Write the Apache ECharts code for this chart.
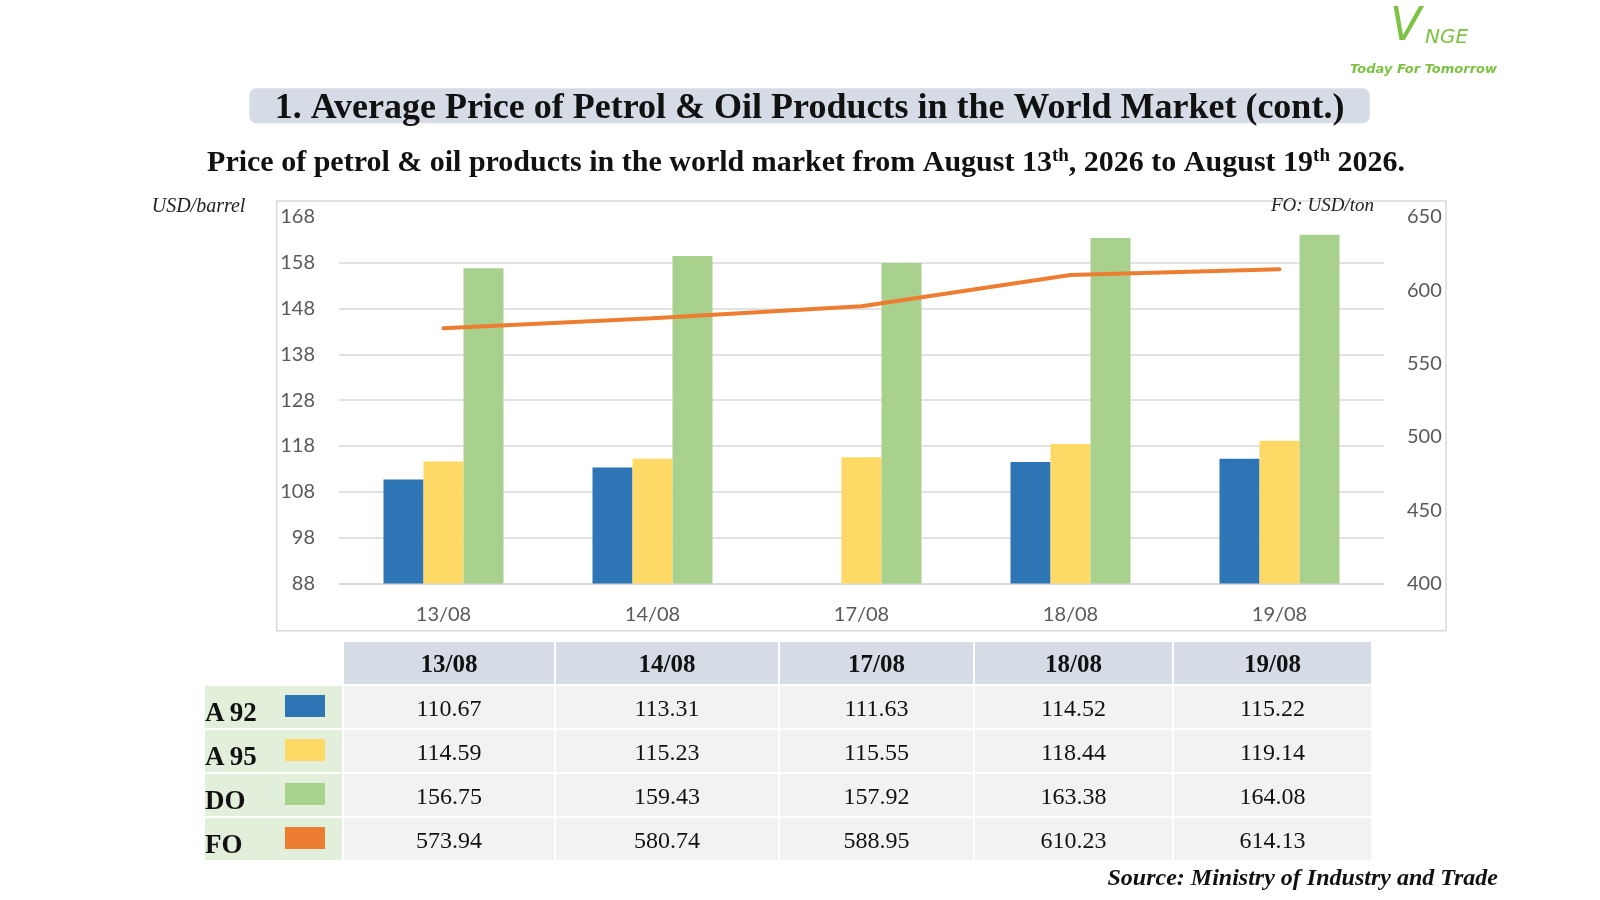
<!DOCTYPE html>
<html>
<head>
<meta charset="utf-8">
<title>Average Price of Petrol &amp; Oil Products</title>
<script src="https://cdn.jsdelivr.net/npm/echarts@6/dist/echarts.min.js"></script>
<style>
    body { margin: 0; background: #fff; }
    #chart { position: absolute; left: 0; top: 0; width: 1600px; height: 900px; }
    #priceTable {
        position: absolute; left: 203px; top: 640px;
        border-collapse: separate; border-spacing: 2px; table-layout: fixed;
        font-family: "Liberation Serif", "Times New Roman", serif; color: #111;
    }
    #priceTable th, #priceTable td {
        box-sizing: border-box; height: 42px; padding: 2px 0 0 0;
        text-align: center; line-height: 40px; overflow: hidden;
    }
    #priceTable th { background: #d6dce5; font-size: 25px; font-weight: bold; }
    #priceTable th.blank { background: none; }
    #priceTable td { background: #f2f2f2; font-size: 24px; }
    #priceTable td.name { background: #e2efda; position: relative; text-align: left; }
    .name .label { position: absolute; left: 0; top: 13px; font-size: 27px; font-weight: bold; line-height: 27px; }
    .name .swatch { position: absolute; left: 80px; top: 9px; width: 40px; height: 22px; }
</style>
</head>
<body>
<div id="chart"></div>
<table id="priceTable"></table>
<script>
// dates on the x axis / table header
var dates = ['13/08', '14/08', '17/08', '18/08', '19/08']

// table values
var a92 = [110.67, 113.31, 111.63, 114.52, 115.22]
var a95 = [114.59, 115.23, 115.55, 118.44, 119.14]
var dieselOil = [156.75, 159.43, 157.92, 163.38, 164.08]
var fuelOil = [573.94, 580.74, 588.95, 610.23, 614.13]

// A92 bar for 17/08 is not drawn in the chart
var a92Bars = [110.67, 113.31, null, 114.52, 115.22]

var leftTicks = { min: 88, max: 168, interval: 10 }
var rightTicks = { min: 400, max: 650, interval: 50 }

var productNames = ['A 92', 'A 95', 'DO', 'FO']
var productColors = ['#2e75b6', '#ffd966', '#a9d18e', '#ed7d31']

var axisFont = 'Lato, "Open Sans", sans-serif'
var serifFont = '"Liberation Serif", "Times New Roman", serif'

// table
var colWidths = [137, 210, 222, 193, 197, 197]
var rows = [a92, a95, dieselOil, fuelOil]
var html = '<colgroup>' + colWidths.map(function(w) {
    return '<col style="width:' + w + 'px">'
}).join('') + '</colgroup>'
html += '<tr><th class="blank"></th>' + dates.map(function(d) {
    return '<th>' + d + '</th>'
}).join('') + '</tr>'
rows.forEach(function(values, i) {
    html += '<tr><td class="name"><span class="label">' + productNames[i] + '</span>' +
        '<span class="swatch" style="background:' + productColors[i] + '"></span></td>' +
        values.map(function(v) { return '<td>' + v.toFixed(2) + '</td>' }).join('') + '</tr>'
})
document.getElementById('priceTable').innerHTML = html

var chart = echarts.init(document.getElementById('chart'), null, { renderer: 'canvas' })

var axisLabelStyle = { color: '#595959', fontSize: 20, fontFamily: axisFont }

var option = {
    animation: false,
    backgroundColor: '#fff',
    grid: { left: 339, right: 216, top: 216.7, bottom: 316.5 },
    xAxis: {
        type: 'category',
        data: dates,
        axisTick: { show: false },
        axisLine: { lineStyle: { color: '#d9d9d9', width: 1.5 } },
        axisLabel: Object.assign({ margin: 21 }, axisLabelStyle)
    },
    yAxis: [{
        type: 'value',
        min: leftTicks.min,
        max: leftTicks.max,
        interval: leftTicks.interval,
        axisLine: { show: false },
        axisTick: { show: false },
        axisLabel: Object.assign({ margin: 24 }, axisLabelStyle),
        splitLine: { showMaxLine: false, lineStyle: { color: '#d9d9d9', width: 1.5 } }
    }, {
        type: 'value',
        min: rightTicks.min,
        max: rightTicks.max,
        interval: rightTicks.interval,
        axisLine: { show: false },
        axisTick: { show: false },
        axisLabel: Object.assign({ margin: 23 }, axisLabelStyle),
        splitLine: { show: false }
    }],
    series: [{
        name: 'A 92', type: 'bar', data: a92Bars,
        barWidth: 40, barGap: '0%',
        itemStyle: { color: productColors[0] }
    }, {
        name: 'A 95', type: 'bar', data: a95,
        barWidth: 40, barGap: '0%',
        itemStyle: { color: productColors[1] }
    }, {
        name: 'DO', type: 'bar', data: dieselOil,
        barWidth: 40, barGap: '0%',
        itemStyle: { color: productColors[2] }
    }, {
        name: 'FO', type: 'line', yAxisIndex: 1, data: fuelOil,
        symbol: 'none', z: 5,
        lineStyle: { color: productColors[3], width: 4, cap: 'round' }
    }],
    graphic: [
        // chart frame
        { type: 'rect', z: -1, silent: true,
          shape: { x: 276.7, y: 201, width: 1169.3, height: 429.7 },
          style: { fill: 'none', stroke: '#d9d9d9', lineWidth: 1.5 } },
        // title box
        { type: 'rect', silent: true,
          shape: { x: 249.3, y: 88.3, width: 1120.5, height: 35, r: 7 },
          style: { fill: '#d6dce5' } },
        { type: 'text', x: 809.5, y: 108.5, silent: true,
          style: { text: '1. Average Price of Petrol & Oil Products in the World Market (cont.)',
                   font: 'bold 36px ' + serifFont, fill: '#111', align: 'center', verticalAlign: 'middle' } },
        { type: 'text', x: 806, y: 163, silent: true,
          style: {
              text: '{t|Price of petrol & oil products in the world market from August 13}{s|th}{t|, 2026 to August 19}{s|th}{t| 2026.}',
              align: 'center', verticalAlign: 'middle',
              rich: {
                  t: { fontFamily: serifFont, fontWeight: 'bold', fontSize: 30, lineHeight: 32, fill: '#111', color: '#111' },
                  s: { fontFamily: serifFont, fontWeight: 'bold', fontSize: 19, lineHeight: 20, verticalAlign: 'top', fill: '#111', color: '#111' }
              }
          } },
        { type: 'text', x: 151.7, y: 206.7, silent: true,
          style: { text: 'USD/barrel', font: 'italic 20px ' + serifFont, fill: '#222', verticalAlign: 'middle' } },
        { type: 'text', x: 1271, y: 205.7, silent: true,
          style: { text: 'FO: USD/ton', font: 'italic 19px ' + serifFont, fill: '#222', verticalAlign: 'middle' } },
        { type: 'text', x: 1498, y: 878.5, silent: true,
          style: { text: 'Source: Ministry of Industry and Trade', font: 'italic bold 24px ' + serifFont,
                   fill: '#111', align: 'right', verticalAlign: 'middle' } },
        // logo
        { type: 'text', x: 1390, y: 28, silent: true,
          style: { text: 'V', font: 'italic 46px "DejaVu Sans", sans-serif', fill: '#7dc242', verticalAlign: 'middle' } },
        { type: 'text', x: 1425, y: 38, silent: true,
          style: { text: 'NGE', font: 'italic 20px "DejaVu Sans", sans-serif', fill: '#7dc242', verticalAlign: 'middle' } },
        { type: 'text', x: 1497, y: 70, silent: true,
          style: { text: 'Today For Tomorrow', font: 'italic bold 13px "DejaVu Sans", sans-serif', fill: '#7dc242',
                   align: 'right', verticalAlign: 'middle' } }
    ]
}

chart.setOption(option)
</script>
</body>
</html>
